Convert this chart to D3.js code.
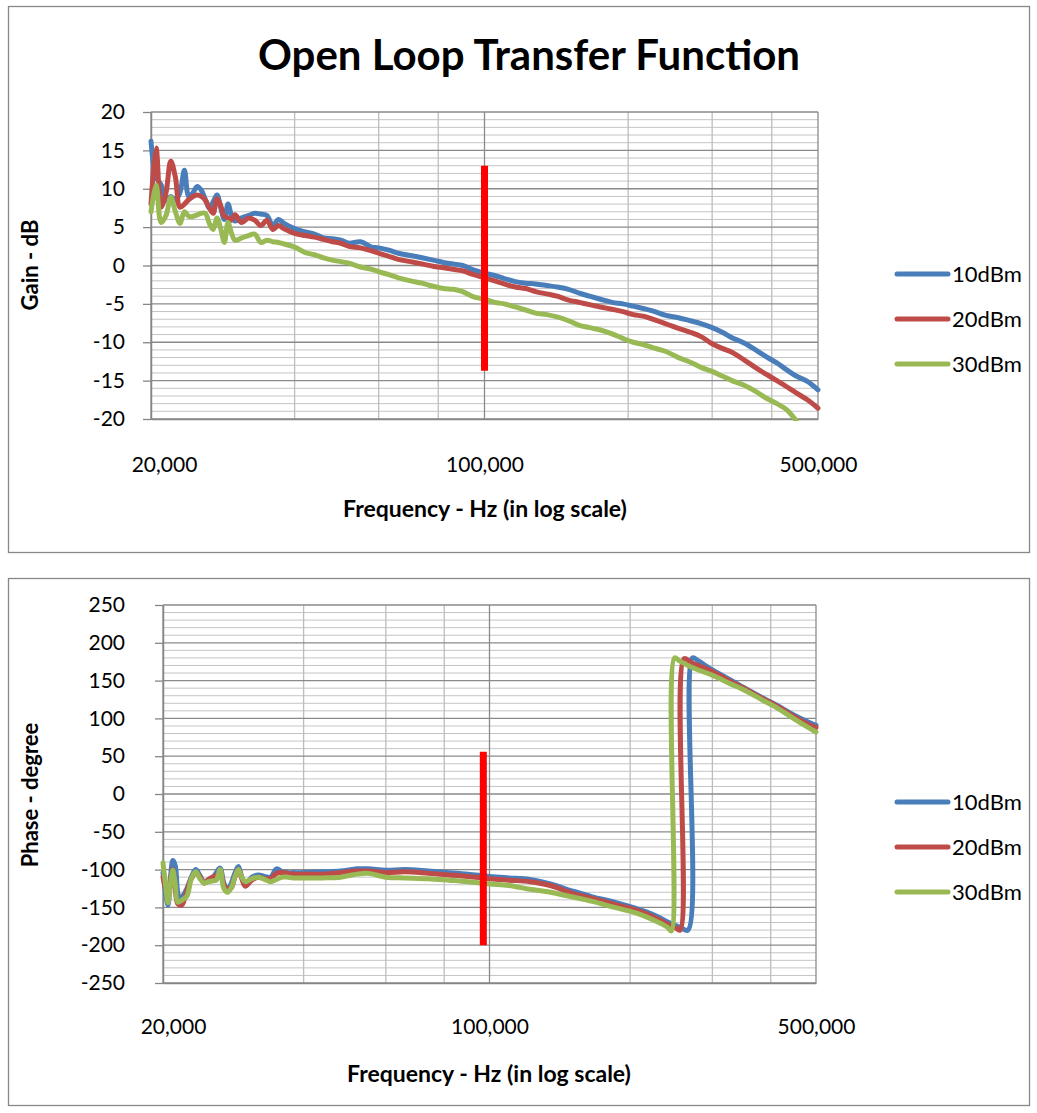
<!DOCTYPE html>
<html><head><meta charset="utf-8">
<script src="https://cdn.jsdelivr.net/npm/d3@7"></script>
<style>body{margin:0;background:#fff} text{font-family:Lato,"Open Sans",sans-serif;fill:#000}</style>
</head><body>
<svg id="chart" width="1037" height="1113"></svg>
<script>
// ---------- data ----------
const chartTitle = "Open Loop Transfer Function";
const seriesNames = ["10dBm", "20dBm", "30dBm"];
const seriesColors = ["#4A7EBB", "#BE4B48", "#98B954"];
const xTickValues = [20000, 100000, 500000];
const xTickLabels = ["20,000", "100,000", "500,000"];
const xMinorValues = [40000, 60000, 80000, 200000, 300000, 400000];

const gainFreq = [20000,20500,21000,21500,22000,22500,23000,23500,24000,24500,25000,25500,26000,26500,27000,27500,28000,28500,29000,29500,30000,
  31000,32000,33000,34000,35000,36000,37000,38000,40000,42000,44000,46000,48000,50000,52000,
  55000,58000,60000,63000,66000,70000,74000,78000,82000,86000,90000,95000,
  100000,105000,110000,116000,122000,128000,135000,142000,150000,158000,166000,175000,185000,195000,
  205000,215000,225000,240000,255000,270000,285000,300000,315000,330000,350000,370000,390000,410000,430000,450000,475000,500000];
const gain10 = [16.2,11.5,10.5,8.5,9.0,8.5,9.5,12.4,9.0,9.5,10.3,9.8,8.6,7.5,8.3,9.2,7.5,6.0,8.0,6.5,5.8,
  6.2,6.5,6.8,6.7,6.5,5.2,6.0,5.5,4.8,4.4,4.1,3.6,3.5,3.3,2.9,
  3.1,2.4,2.3,2.0,1.6,1.3,1.0,0.7,0.4,0.2,0.0,-0.6,
  -1.0,-1.3,-1.7,-2.1,-2.3,-2.4,-2.6,-2.8,-3.1,-3.6,-4.0,-4.4,-4.8,-5.0,
  -5.3,-5.6,-5.9,-6.5,-6.8,-7.2,-7.6,-8.1,-8.7,-9.4,-10.1,-11.0,-11.9,-12.7,-13.6,-14.4,-15.1,-16.2];
const gain20 = [8.0,15.3,7.6,9.5,13.6,11.5,7.6,8.0,8.6,9.0,9.2,9.0,8.5,7.5,6.8,8.7,7.8,6.4,6.2,5.9,6.6,
  5.6,6.2,5.9,5.2,5.9,4.7,5.2,4.8,4.2,3.9,3.7,3.4,3.1,2.9,2.5,
  2.3,1.9,1.6,1.2,0.8,0.5,0.2,-0.1,-0.3,-0.5,-0.7,-1.2,
  -1.6,-2.0,-2.4,-2.8,-3.0,-3.4,-3.7,-4.0,-4.5,-4.8,-5.1,-5.4,-5.7,-6.0,
  -6.4,-6.6,-7.0,-7.6,-8.2,-8.7,-9.3,-10.2,-10.8,-11.3,-12.3,-13.3,-14.2,-15.0,-15.8,-16.6,-17.5,-18.6];
const gain30 = [7.0,10.5,5.6,6.5,8.9,7.0,5.5,7.0,6.4,6.4,6.6,6.8,6.8,5.5,4.7,6.2,4.8,3.0,5.6,4.2,3.3,
  3.6,3.9,4.1,3.0,3.3,3.1,3.0,2.8,2.4,1.7,1.4,1.0,0.7,0.5,0.3,
  -0.2,-0.5,-0.8,-1.2,-1.6,-2.0,-2.3,-2.7,-3.0,-3.1,-3.4,-4.1,
  -4.4,-4.8,-5.0,-5.4,-5.8,-6.2,-6.4,-6.7,-7.2,-7.8,-8.1,-8.4,-8.9,-9.5,
  -10.0,-10.3,-10.7,-11.2,-12.0,-12.6,-13.3,-13.8,-14.4,-15.0,-15.6,-16.4,-17.3,-18.0,-18.8,-20.2,null,null];

const phaseHeadFreq = [20000,20250,20500,20750,21000,21250,21500,21750,22000,22500,23000,23500,24000,24500,25000,25500,26000,26500,27000,27500,
  28000,28500,29000,29500,30000,31000,32000,33000,34000,35000,36000,37000,38000,40000,44000,48000,52000,55000,60000,66000,
  74000,82000,90000,100000,110000,122000,135000,150000,166000,185000,205000,225000,240000];
const phaseHead10 = [-104,-130,-147,-110,-88,-95,-130,-140,-136,-125,-110,-100,-108,-117,-116,-112,-104,-98,-118,-127,
  -118,-105,-96,-110,-120,-110,-107,-109,-110,-99,-103,-104,-104,-104,-103,-102,-99,-99,-101,-100,
  -102,-104,-106,-109,-111,-113,-119,-128,-136,-143,-151,-160,-169];
const phaseHead20 = [-110,-125,-133,-115,-100,-128,-145,-147,-146,-128,-112,-104,-110,-118,-113,-110,-108,-102,-120,-126,
  -124,-110,-100,-112,-122,-114,-110,-112,-112,-105,-104,-105,-106,-106,-106,-104,-102,-102,-104,-103,
  -105,-107,-109,-112,-114,-116,-121,-131,-138,-146,-153,-163,-172];
const phaseHead30 = [-91,-120,-144,-118,-101,-120,-143,-142,-140,-135,-112,-103,-112,-118,-116,-115,-114,-100,-125,-130,
  -124,-110,-100,-110,-116,-112,-110,-113,-116,-113,-110,-110,-111,-111,-111,-110,-106,-105,-110,-111,
  -112,-114,-116,-119,-121,-126,-130,-136,-142,-150,-157,-167,-176];
const phaseTailFreq10 = [255000,266000,272000,280000,300000,330000,350000,390000,410000,450000,475000,500000];
const phaseTail10 = [-176,-180,180,176,164,150,141,125,118,104,97,91];
const phaseTailFreq20 = [250000,256000,261000,270000,300000,330000,350000,390000,410000,450000,475000,500000];
const phaseTail20 = [-177,-180,179,174,162,148,140,124,117,102,94,88];
const phaseTailFreq30 = [245000,249000,255000,270000,300000,330000,350000,390000,410000,450000,475000,500000];
const phaseTail30 = [-181,180,176,168,157,145,138,122,115,99,90,82];

const gainMarkerFreq = 100000, gainMarker = [13, -13.7];
const phaseMarkerFreq = 97000, phaseMarker = [56, -200];

// ---------- drawing ----------
const svg = d3.select("#chart");
const curve = d3.curveCatmullRom.alpha(0.5);

function zipSeries(freqs, vals) { return freqs.map((f, i) => ({ f, v: vals[i] })); }

function drawPanel(p) {
  const g = svg.append("g");
  g.append("rect").attr("x", p.box[0]).attr("y", p.box[1]).attr("width", p.box[2]).attr("height", p.box[3])
    .attr("fill", "#fff").attr("stroke", "#888").attr("stroke-width", 1.3);

  const x = d3.scaleLog().base(5).domain([20000, 500000]).range([p.x0, p.x1]);
  const y = d3.scaleLinear().domain(p.yDomain).range([p.y1, p.y0]);

  const majorY = d3.range(p.yDomain[0], p.yDomain[1] + 1e-9, p.majorStep);
  const minorY = d3.range(p.yDomain[0], p.yDomain[1] + 1e-9, p.minorStep)
    .filter(v => Math.abs(v % p.majorStep) > 1e-9);

  const grid = g.append("g");
  grid.selectAll(".mh").data(minorY).join("line")
    .attr("x1", p.x0).attr("x2", p.x1).attr("y1", d => y(d)).attr("y2", d => y(d))
    .attr("stroke", "#c4c4c4").attr("stroke-width", 1);
  grid.selectAll(".mv").data(xMinorValues).join("line")
    .attr("x1", d => x(d)).attr("x2", d => x(d)).attr("y1", p.y0).attr("y2", p.y1)
    .attr("stroke", "#bdbdbd").attr("stroke-width", 1.3);
  grid.selectAll(".Mh").data(majorY).join("line")
    .attr("x1", p.x0).attr("x2", p.x1).attr("y1", d => y(d)).attr("y2", d => y(d))
    .attr("stroke", "#8a8a8a").attr("stroke-width", 1.3);
  grid.selectAll(".Mv").data(xTickValues).join("line")
    .attr("x1", d => x(d)).attr("x2", d => x(d)).attr("y1", p.y0).attr("y2", p.y1)
    .attr("stroke", "#8a8a8a").attr("stroke-width", 1.3);

  // y axis
  const yAxis = d3.axisLeft(y).tickValues(majorY).tickSize(8).tickSizeOuter(0)
    .tickPadding(p.x0 - 125 - 8).tickFormat(d => String(d));
  const ya = g.append("g").attr("transform", `translate(${p.x0},0)`).call(yAxis);
  ya.select(".domain").attr("stroke", "#868686").attr("stroke-width", 1.5);
  ya.selectAll(".tick line").attr("stroke", "#868686").attr("stroke-width", 1.3);
  ya.selectAll(".tick text").attr("font-size", 21).attr("font-family", "Lato").attr("fill", "#000");

  // x axis
  const xAxis = d3.axisBottom(x).tickValues(xTickValues).tickSize(0).tickSizeOuter(0)
    .tickPadding(p.xLabelPad).tickFormat((d, i) => xTickLabels[i]);
  const xa = g.append("g").attr("transform", `translate(0,${p.y1})`).call(xAxis);
  xa.select(".domain").attr("stroke", "#868686").attr("stroke-width", 1.5);
  xa.selectAll(".tick text").attr("font-size", 21).attr("font-family", "Lato").attr("fill", "#000")
    .attr("dx", (d, i) => i === 0 ? p.firstLabelShift : 0);

  // axis titles
  g.append("text").attr("x", p.xTitle[0]).attr("y", p.xTitle[1]).attr("text-anchor", "middle")
    .attr("font-size", 23).attr("font-weight", "bold").text("Frequency - Hz (in log scale)");
  g.append("text").attr("transform", `translate(${p.yTitle[0]},${p.yTitle[1]}) rotate(-90)`)
    .attr("text-anchor", "middle").attr("font-size", 22).attr("font-weight", "bold").text(p.yTitleText);

  // series
  const clipId = "clip" + p.id;
  svg.append("clipPath").attr("id", clipId).append("rect")
    .attr("x", p.x0 - 4).attr("y", p.y0 - 4).attr("width", p.x1 - p.x0 + 8).attr("height", p.y1 - p.y0 + 6);
  const line = d3.line().defined(d => d.v !== null).x(d => x(d.f)).y(d => y(d.v)).curve(curve);
  const sg = g.append("g").attr("clip-path", `url(#${clipId})`);
  sg.selectAll("path.s").data(p.series).join("path")
    .attr("d", d => line(d)).attr("fill", "none")
    .attr("stroke", (d, i) => seriesColors[i]).attr("stroke-width", 5)
    .attr("stroke-linejoin", "round").attr("stroke-linecap", "round");

  // red marker
  g.append("line").attr("x1", x(p.markerFreq)).attr("x2", x(p.markerFreq))
    .attr("y1", y(p.marker[0])).attr("y2", y(p.marker[1]))
    .attr("stroke", "#FF0000").attr("stroke-width", 7);

  // legend
  const lg = g.append("g");
  seriesNames.forEach((n, i) => {
    const ly = p.legendY[i];
    lg.append("line").attr("x1", 897).attr("x2", 948).attr("y1", ly).attr("y2", ly)
      .attr("stroke", seriesColors[i]).attr("stroke-width", 5).attr("stroke-linecap", "round");
    lg.append("text").attr("x", 952).attr("y", ly + 7.5).attr("font-size", 22).text(n);
  });
}

drawPanel({
  id: "g", box: [8.5, 6.5, 1021, 546],
  x0: 151, x1: 818, y0: 112, y1: 419,
  yDomain: [-20, 20], majorStep: 5, minorStep: 1,
  xLabelPad: 38, firstLabelShift: 13,
  xTitle: [485, 517], yTitle: [38, 265], yTitleText: "Gain - dB",
  series: [zipSeries(gainFreq, gain10), zipSeries(gainFreq, gain20), zipSeries(gainFreq, gain30)],
  markerFreq: gainMarkerFreq, marker: gainMarker,
  legendY: [274, 319, 364]
});

drawPanel({
  id: "p", box: [8.5, 578.5, 1021, 527],
  x0: 163, x1: 816, y0: 605, y1: 983,
  yDomain: [-250, 250], majorStep: 50, minorStep: 10,
  xLabelPad: 36, firstLabelShift: 10,
  xTitle: [489, 1082], yTitle: [38, 795], yTitleText: "Phase - degree",
  series: [
    zipSeries(phaseHeadFreq.concat(phaseTailFreq10), phaseHead10.concat(phaseTail10)),
    zipSeries(phaseHeadFreq.concat(phaseTailFreq20), phaseHead20.concat(phaseTail20)),
    zipSeries(phaseHeadFreq.concat(phaseTailFreq30), phaseHead30.concat(phaseTail30))
  ],
  markerFreq: phaseMarkerFreq, marker: phaseMarker,
  legendY: [802, 847, 892]
});

// title (drawn last so the panel background does not cover it)
svg.append("text").attr("x", 529).attr("y", 70).attr("text-anchor", "middle")
  .attr("font-size", 42).attr("font-weight", "bold").text(chartTitle);
</script>
</body></html>
